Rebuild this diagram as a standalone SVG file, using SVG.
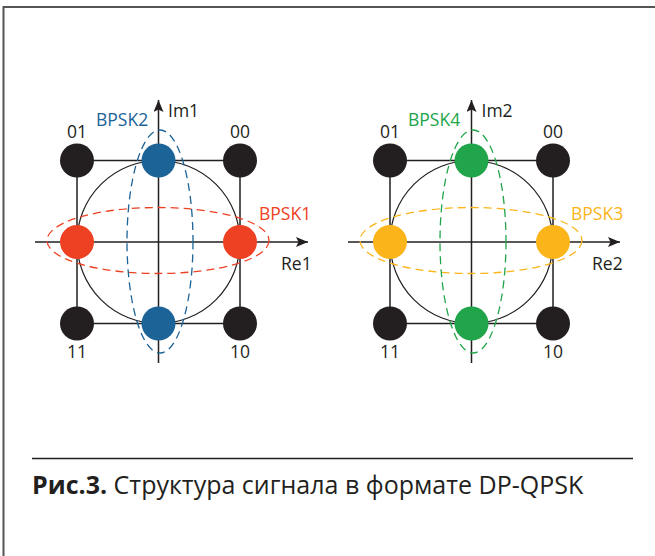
<svg xmlns="http://www.w3.org/2000/svg" width="655" height="556" viewBox="0 0 655 556">
<defs>
<marker id="arr" viewBox="0 0 12 10" refX="12" refY="5" markerWidth="12" markerHeight="10" markerUnits="userSpaceOnUse" orient="auto">
<path d="M0,0 L12,5 L0,10 L2.5,5 Z" fill="#231f20"/>
</marker>
</defs>
<style>
.axis{stroke:#231f20;stroke-width:1.5;fill:none}
.sq{stroke:#231f20;stroke-width:1.5;fill:none}
.circ{stroke:#231f20;stroke-width:1.2;fill:none}
.dash{fill:none;stroke-width:1.3;stroke-dasharray:8 5}
.lbl{font-family:"Open Sans","Noto Sans",sans-serif;font-size:17.5px;fill:#231f20}
.cap{font-family:"Open Sans","Noto Sans",sans-serif;font-size:25px;fill:#231f20}
.blk{fill:#231f20}
</style>
<rect width="655" height="556" fill="#fff"/>
<path d="M3.5,556 V7 H655" fill="none" stroke="#555" stroke-width="2"/>

<g id="panel1">
<g id="connectors1">
<rect class="sq" x="77" y="160.5" width="163" height="163"/>
<circle class="circ" cx="158.5" cy="242" r="81.5"/>
<line class="axis" x1="35" y1="242" x2="308" y2="242" marker-end="url(#arr)"/>
<line class="axis" x1="158.5" y1="363" x2="158.5" y2="100" marker-end="url(#arr)"/>
</g>
<g id="p1-01"><circle class="blk" cx="77" cy="160.5" r="17"/><text class="lbl" x="77" y="137.5" text-anchor="middle">01</text></g>
<g id="p1-00"><circle class="blk" cx="240" cy="160.5" r="17"/><text class="lbl" x="240" y="137.5" text-anchor="middle">00</text></g>
<g id="p1-11"><circle class="blk" cx="77" cy="323.5" r="17"/><text class="lbl" x="77" y="358" text-anchor="middle">11</text></g>
<g id="p1-10"><circle class="blk" cx="240" cy="323.5" r="17"/><text class="lbl" x="240" y="358" text-anchor="middle">10</text></g>
<g id="p1-bpsk1">
<circle cx="77" cy="242" r="17" fill="#ee4123"/>
<circle cx="240" cy="242" r="17" fill="#ee4123"/>
<ellipse class="dash" cx="158" cy="240.5" rx="111" ry="33" stroke="#ee4123"/>
<text class="lbl" x="259" y="220" style="fill:#ee4123">BPSK1</text>
</g>
<g id="p1-bpsk2">
<circle cx="158.5" cy="160.5" r="17" fill="#1c6397"/>
<circle cx="158.5" cy="323.5" r="17" fill="#1c6397"/>
<ellipse class="dash" cx="160" cy="241.5" rx="33" ry="111.5" stroke="#1c6397"/>
<text class="lbl" x="96" y="126" style="fill:#1c6397">BPSK2</text>
</g>
<text class="lbl" x="168" y="117">Im1</text>
<text class="lbl" x="281" y="270">Re1</text>
</g>

<g id="panel2">
<g id="connectors2">
<rect class="sq" x="390" y="160.5" width="163" height="163"/>
<circle class="circ" cx="471.5" cy="242" r="81.5"/>
<line class="axis" x1="348" y1="242" x2="620" y2="242" marker-end="url(#arr)"/>
<line class="axis" x1="471.5" y1="363" x2="471.5" y2="100" marker-end="url(#arr)"/>
</g>
<g id="p2-01"><circle class="blk" cx="390" cy="160.5" r="17"/><text class="lbl" x="390" y="137.5" text-anchor="middle">01</text></g>
<g id="p2-00"><circle class="blk" cx="553" cy="160.5" r="17"/><text class="lbl" x="553" y="137.5" text-anchor="middle">00</text></g>
<g id="p2-11"><circle class="blk" cx="390" cy="323.5" r="17"/><text class="lbl" x="390" y="358" text-anchor="middle">11</text></g>
<g id="p2-10"><circle class="blk" cx="553" cy="323.5" r="17"/><text class="lbl" x="553" y="358" text-anchor="middle">10</text></g>
<g id="p2-bpsk3">
<circle cx="390" cy="242" r="17" fill="#fbb51a"/>
<circle cx="553" cy="242" r="17" fill="#fbb51a"/>
<ellipse class="dash" cx="471" cy="240.5" rx="111" ry="33" stroke="#fbb51a"/>
<text class="lbl" x="571" y="220" style="fill:#fbb51a">BPSK3</text>
</g>
<g id="p2-bpsk4">
<circle cx="471.5" cy="160.5" r="17" fill="#21a54a"/>
<circle cx="471.5" cy="323.5" r="17" fill="#21a54a"/>
<ellipse class="dash" cx="473" cy="241.5" rx="33" ry="111.5" stroke="#21a54a"/>
<text class="lbl" x="408" y="126" style="fill:#21a54a">BPSK4</text>
</g>
<text class="lbl" x="481.5" y="117">Im2</text>
<text class="lbl" x="592" y="270">Re2</text>
</g>

<g id="caption">
<line x1="32" y1="458.5" x2="633" y2="458.5" stroke="#231f20" stroke-width="1.5"/>
<text class="cap" x="32" y="494"><tspan font-weight="bold">Рис.3.</tspan> Структура сигнала в формате DP-QPSK</text>
</g>
</svg>
